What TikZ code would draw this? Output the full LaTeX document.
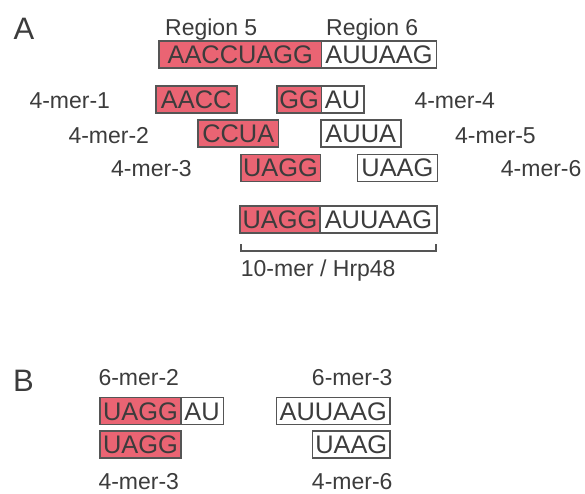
\documentclass[tikz,border=0pt]{standalone}
\usepackage{fontspec}
\setmainfont{Liberation Sans}
\definecolor{seqred}{RGB}{234,100,115}
\definecolor{boxline}{RGB}{85,85,85}
\definecolor{txt}{RGB}{60,60,60}
\tikzset{
  seqbox/.style={draw=boxline, line width=1.5pt, anchor=west, inner sep=0pt,
    minimum height=27pt, text height=18.2pt, text depth=0pt, text=txt,
    font=\fontsize{25.4}{30}\selectfont},
  redbox/.style={seqbox, fill=seqred},
  whitebox/.style={seqbox, fill=white},
  lab/.style={anchor=base west, inner sep=0pt, text=txt, font=\fontsize{23}{27}\selectfont},
  labr/.style={lab, anchor=base east},
  panel/.style={anchor=base west, inner sep=0pt, text=txt, font=\fontsize{31}{36}\selectfont},
  bracket/.style={draw=boxline, line width=1.4pt}
}
\begin{document}
\begin{tikzpicture}[x=1pt,y=-1pt]
\useasboundingbox[fill=white] (0,0) rectangle (585,493);
% Panel A
\node[panel] (pA) at (13.5,39) {A};
\node[lab] (reg5) at (165,35) {Region 5};
\node[lab] (reg6) at (326,35) {Region 6};
\node[redbox, minimum width=162.4pt] (top5) at (158.3,54.5) {AACCUAGG};
\node[whitebox, minimum width=115pt] (top6) at (320.7,54.5) {AUUAAG};
% row 1
\node[lab] (l1) at (29.3,108.3) {4-mer-1};
\node[redbox, minimum width=81pt] (m1) at (155,99.3) {AACC};
\node[redbox, minimum width=44.7pt] (m4a) at (276,99.3) {GG};
\node[whitebox, minimum width=42.3pt] (m4b) at (320.7,99.3) {AU};
\node[lab] (l4) at (414.3,108.3) {4-mer-4};
% row 2
\node[lab] (l2) at (68.3,143) {4-mer-2};
\node[redbox, minimum width=80.4pt] (m2) at (197.3,133.7) {CCUA};
\node[whitebox, minimum width=80pt] (m5) at (320,133.7) {AUUA};
\node[lab] (l5) at (455,143) {4-mer-5};
% row 3
\node[lab] (l3) at (111,176.5) {4-mer-3};
\node[redbox, minimum width=79.5pt] (m3) at (240,167.8) {UAGG};
\node[whitebox, minimum width=80pt] (m6) at (356.7,167.8) {UAAG};
\node[lab] (l6) at (500.7,176.5) {4-mer-6};
% row 4
\node[redbox, minimum width=80pt] (t10a) at (239.3,219.5) {UAGG};
\node[whitebox, minimum width=116.7pt] (t10b) at (319.3,219.5) {AUUAAG};
\coordinate (bl) at (241,244.3);
\coordinate (br) at (436,244.3);
\draw[bracket] (bl) -- ++(0,6.7) -| (br);
\node[lab] (l10) at (240.7,276.7) {10-mer / Hrp48};
% Panel B
\node[panel] (pB) at (13,391.7) {B};
\node[lab] (s2) at (98.3,385) {6-mer-2};
\node[labr] (s3) at (392.7,385) {6-mer-3};
\node[redbox, minimum width=80.7pt] (b2a) at (99.3,411) {UAGG};
\node[whitebox, minimum width=42.7pt] (b2b) at (180,411) {AU};
\node[whitebox, minimum width=113.6pt] (b3) at (275.7,411) {AUUAAG};
\node[redbox, minimum width=80.7pt] (b4) at (99.3,444.7) {UAGG};
\node[whitebox, minimum width=77.6pt] (b6) at (311.7,444.7) {UAAG};
\node[lab] (f3) at (98.3,489.5) {4-mer-3};
\node[labr] (f6) at (392.7,489.5) {4-mer-6};
\end{tikzpicture}
\end{document}
